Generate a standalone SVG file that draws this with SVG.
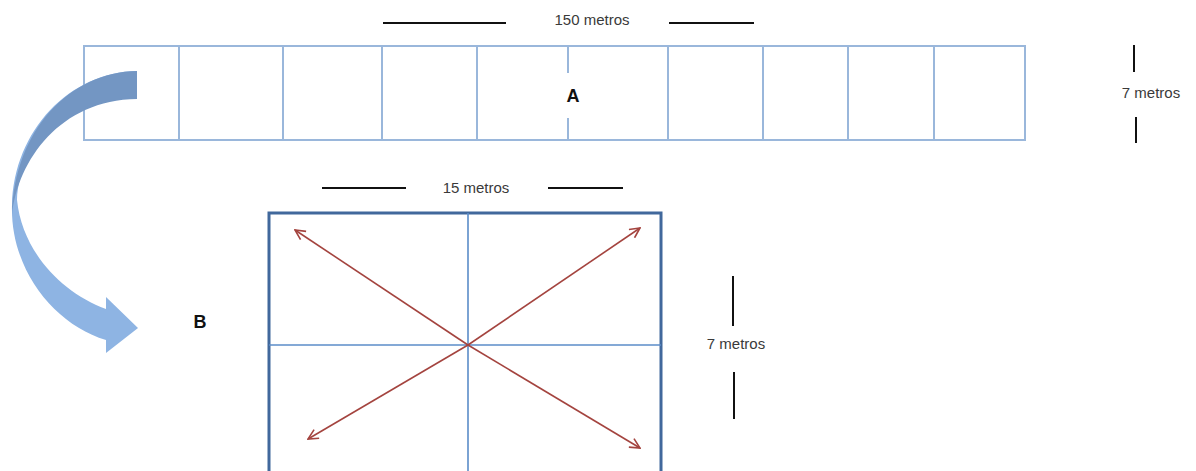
<svg xmlns="http://www.w3.org/2000/svg" width="1196" height="471" viewBox="0 0 1196 471">
<defs>
<style>
.lbl{font-family:"Liberation Sans",Arial,sans-serif;font-size:15px;fill:#3a3a3a}
.big{font-family:"Liberation Sans",Arial,sans-serif;font-size:18px;font-weight:bold;fill:#111}
.dim{stroke:#111;stroke-width:2;fill:none}
.strip{stroke:#9AB7DB;stroke-width:2;fill:none}
.grid{stroke:#5B8CC8;stroke-width:1.6;fill:none}
.red{stroke:#A4443F;stroke-width:1.6;fill:none;marker-end:url(#oh)}
</style>
<marker id="oh" viewBox="0 0 12 12" refX="11" refY="6" markerWidth="12" markerHeight="12" markerUnits="userSpaceOnUse" orient="auto">
<path d="M1,1 L11,6 L1,11" fill="none" stroke="#A4443F" stroke-width="1.6"/>
</marker>
</defs>
<rect width="1196" height="471" fill="#fff"/>

<g id="dim-150">
<line class="dim" x1="383" y1="23" x2="506" y2="23"/>
<line class="dim" x1="669" y1="23" x2="754" y2="23"/>
<text class="lbl" x="592" y="25" text-anchor="middle">150 metros</text>
</g>

<g id="strip-A">
<rect class="strip" x="84" y="46" width="941" height="94"/>
<path class="strip" d="M179,46V140M283,46V140M382,46V140M477,46V140M568,46V73M568,118V140M668,46V140M763,46V140M848,46V140M934,46V140"/>
<text class="big" x="573" y="102" text-anchor="middle">A</text>
</g>

<g id="dim-7-top">
<line class="dim" x1="1134" y1="45" x2="1134" y2="72"/>
<line class="dim" x1="1136" y1="117" x2="1136" y2="143"/>
<text class="lbl" x="1151" y="98" text-anchor="middle">7 metros</text>
</g>

<g id="curved-arrow">
<path fill="#8EB4E3" d="M137,71 C70,72 14,130 12,205 C10,270 55,325 106,340 L106,353 L138,328 L106,297 L106,309 C60,292 22,250 17,200 C20,140 70,85 137,80 Z"/>
<path fill="#7396C3" d="M137,71 C70,72 14,130 12,215 C18,160 60,100 137,99 Z"/>
</g>

<g id="label-B">
<text class="big" x="200" y="328" text-anchor="middle">B</text>
</g>

<g id="dim-15">
<line class="dim" x1="322" y1="188" x2="406" y2="188"/>
<line class="dim" x1="548" y1="188" x2="623" y2="188"/>
<text class="lbl" x="476" y="193" text-anchor="middle">15 metros</text>
</g>

<g id="field-B">
<rect x="269" y="213" width="392" height="300" fill="none" stroke="#41689C" stroke-width="3"/>
<line class="grid" x1="468" y1="213" x2="468" y2="471"/>
<line class="grid" x1="269" y1="345" x2="661" y2="345"/>
</g>

<g id="connectors">
<line class="red" x1="468" y1="345" x2="295" y2="230"/>
<line class="red" x1="468" y1="345" x2="640" y2="228"/>
<line class="red" x1="468" y1="345" x2="308" y2="439"/>
<line class="red" x1="468" y1="345" x2="640" y2="448"/>
</g>

<g id="dim-7-bottom">
<line class="dim" x1="733" y1="276" x2="733" y2="326"/>
<line class="dim" x1="734" y1="372" x2="734" y2="419"/>
<text class="lbl" x="736" y="349" text-anchor="middle">7 metros</text>
</g>
</svg>
